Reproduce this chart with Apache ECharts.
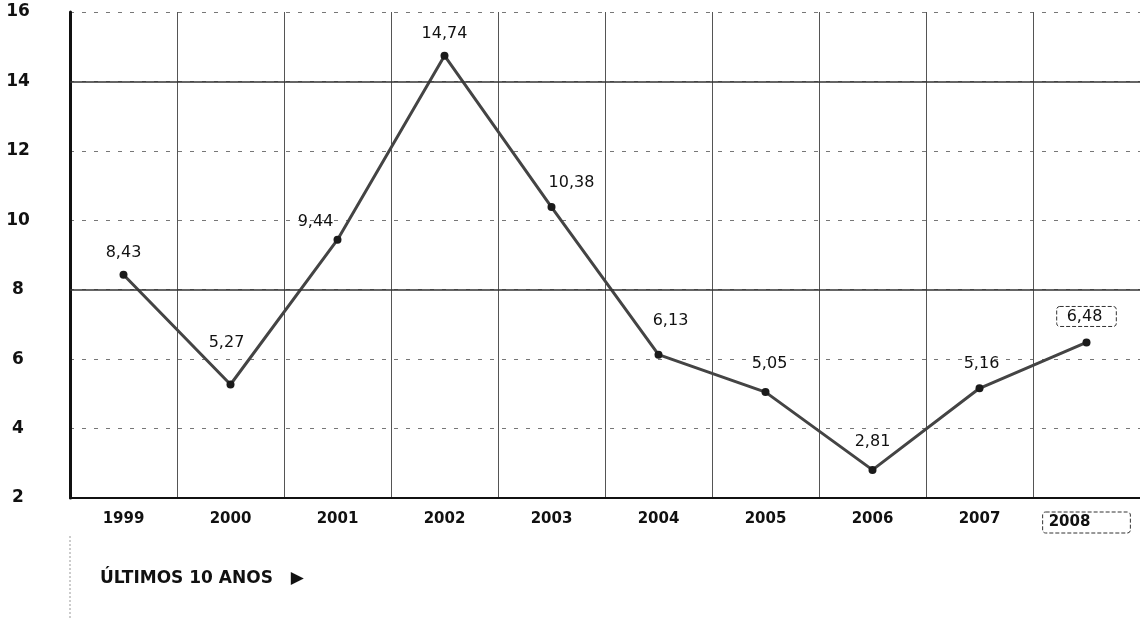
<!DOCTYPE html>
<html>
<head>
<meta charset="utf-8">
<script src="https://cdn.jsdelivr.net/npm/echarts@6/dist/echarts.min.js"></script>
<style>
  html, body { margin: 0; padding: 0; background: #fff; }
  #chart { width: 1140px; height: 623px; }
</style>
</head>
<body>
<div id="chart"></div>
<script>
const years = ['1999', '2000', '2001', '2002', '2003', '2004', '2005', '2006', '2007', '2008']
const values = [8.43, 5.27, 9.44, 14.74, 10.38, 6.13, 5.05, 2.81, 5.16, 6.48]
const yTicks = [2, 4, 6, 8, 10, 12, 14, 16]
const solidLevels = [14, 8]

// label offsets (dx, dy in px)
const labelOffsets = [[0, -2], [-4, -22], [-22, 2], [0, -2], [20, -4], [12, -14], [4, -8], [0, -8], [2, -4], [0, -4]]

const chart = echarts.init(document.getElementById('chart'))
const fmt = v => v.toFixed(2).replace('.', ',')

const seriesData = values.map((v, i) => {
  const item = {
    value: v,
    label: { offset: labelOffsets[i] },
  }
  if (i === values.length - 1) {
    item.label.borderColor = '#333'
    item.label.borderWidth = 1
    item.label.borderType = 'dashed'
    item.label.borderRadius = 3
    item.label.padding = [2, 14, 2, 10]
  }
  return item
})

const xData = years.map((y, i) => i === years.length - 1 ? {
  value: y,
  textStyle: {
    borderColor: '#333',
    borderWidth: 1,
    borderType: 'dashed',
    borderRadius: 3,
    padding: [3, 40, 3, 6],
  },
} : y)

const option = {
  animation: false,
  grid: {
    left: 70,
    top: 12,
    width: 1078,
    height: 486,
  },
  xAxis: {
    type: 'category',
    data: xData,
    boundaryGap: true,
    axisLine: { show: true, lineStyle: { color: '#111', width: 2 } },
    axisTick: { show: false },
    axisLabel: {
      color: '#111',
      fontFamily: 'DejaVu Sans',
      fontWeight: 'bold',
      fontSize: 15,
      margin: 14,
      interval: 0,
    },
    splitLine: {
      show: true,
      interval: 0,
      lineStyle: { color: '#555', width: 1 },
    },
  },
  yAxis: {
    type: 'value',
    min: yTicks[0],
    max: yTicks[yTicks.length - 1],
    interval: 2,
    axisLine: { show: true, lineStyle: { color: '#111', width: 3 } },
    axisTick: { show: false },
    axisLabel: {
      color: '#111',
      fontFamily: 'DejaVu Sans',
      fontWeight: 'bold',
      fontSize: 17,
      align: 'center',
      margin: 52,
    },
    splitLine: {
      show: true,
      lineStyle: { color: '#777', width: 1, type: [4, 8] },
    },
  },
  series: [{
    type: 'line',
    data: seriesData,
    symbol: 'circle',
    symbolSize: 8,
    lineStyle: { color: '#444', width: 3 },
    itemStyle: { color: '#1a1a1a' },
    label: {
      show: true,
      position: 'top',
      distance: 8,
      color: '#111',
      fontFamily: 'DejaVu Sans',
      fontSize: 16,
      formatter: p => fmt(p.value),
    },
    markLine: {
      silent: true,
      symbol: 'none',
      label: { show: false },
      lineStyle: { color: '#333', width: 1.5, type: 'solid' },
      data: solidLevels.map(v => ({ yAxis: v })),
    },
  }],
  graphic: [
    {
      type: 'line',
      shape: { x1: 70, y1: 536, x2: 70, y2: 620 },
      style: { stroke: '#999', lineWidth: 1, lineDash: [2, 2] },
    },
    {
      type: 'text',
      left: 100,
      top: 570,
      style: {
        text: 'ÚLTIMOS 10 ANOS   ▶',
        fill: '#111',
        font: 'bold 17px "DejaVu Sans"',
      },
    },
  ],
}
chart.setOption(option)
</script>
</body>
</html>
